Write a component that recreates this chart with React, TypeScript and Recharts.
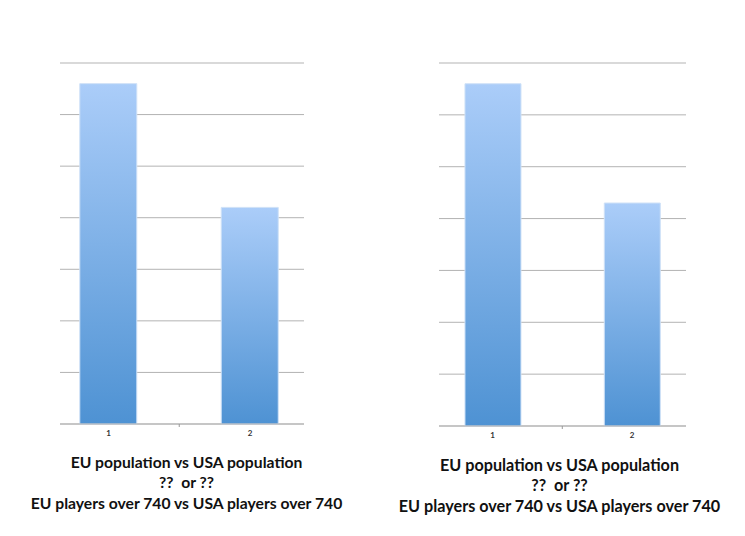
import { BarChart, Bar, XAxis, YAxis, CartesianGrid } from "recharts";

// Two side-by-side Excel-style bar charts, no value axis shown.
const categories = [1, 2];
const leftValues = [66, 42];
const rightValues = [66, 43];
const yTicks = [0, 10, 20, 30, 40, 50, 60, 70];
const titleLines = [
  "EU population vs USA population",
  "??  or ??",
  "EU players over 740 vs USA players over 740",
];

const GRID = "#b3b3b3";

function AxisTick(props: any) {
  const { x, y, payload } = props;
  if (payload.value === 1.5) {
    // the only tick mark is the category boundary in the middle
    return <line x1={x} x2={x} y1={y - 8} y2={y - 5} stroke="#999" strokeWidth={1} />;
  }
  return (
    <text
      x={x}
      y={y + 4}
      textAnchor="middle"
      fontSize={8}
      fontWeight={700}
      fill="#333"
      fontFamily="Lato, sans-serif"
    >
      {payload.value}
    </text>
  );
}

interface PanelProps {
  id: string;
  values: number[];
  left: number;
  width: number;
  margin: { top: number; right: number; bottom: number; left: number };
  domain: [number, number];
  barSize: number;
}

function Panel({ id, values, left, width, margin, domain, barSize }: PanelProps) {
  const data = categories.map((c, i) => ({ cat: c, value: values[i] }));
  return (
    <div style={{ position: "absolute", left, top: 0 }}>
      <BarChart width={width} height={450} data={data} margin={margin}>
        <defs>
          <linearGradient id={id} x1="0" y1="0" x2="0" y2="1">
            <stop offset="0%" stopColor="#abcdf9" />
            <stop offset="100%" stopColor="#4e92d3" />
          </linearGradient>
        </defs>
        <CartesianGrid vertical={false} stroke={GRID} strokeWidth={1} />
        <YAxis hide domain={[0, 70]} ticks={yTicks} />
        <XAxis
          dataKey="cat"
          type="number"
          domain={domain}
          ticks={[1, 1.5, 2]}
          height={20}
          tickLine={false}
          axisLine={{ stroke: GRID }}
          tick={<AxisTick />}
          interval={0}
        />
        <Bar
          dataKey="value"
          fill={`url(#${id})`}
          stroke="#cfe1f7"
          strokeWidth={1}
          barSize={barSize}
          isAnimationActive={false}
        />
      </BarChart>
    </div>
  );
}

function Title({ cx, top, fontSize }: { cx: number; top: number; fontSize: number }) {
  return (
    <div
      style={{
        position: "absolute",
        left: cx - 200,
        top,
        width: 400,
        textAlign: "center",
        fontFamily: "Lato, sans-serif",
        fontWeight: 700,
        fontSize,
        lineHeight: "20.5px",
        color: "#111",
        whiteSpace: "pre",
      }}
    >
      {titleLines.map((l) => (
        <div key={l}>{l}</div>
      ))}
    </div>
  );
}

export default function App() {
  return (
    <div style={{ position: "absolute", left: 0, top: 0, width: 745, height: 536, background: "#fff" }}>
      <Panel
        id="gradLeft"
        values={leftValues}
        left={0}
        width={320}
        margin={{ top: 63, right: 16, bottom: 6, left: 60 }}
        domain={[0.657, 2.382]}
        barSize={57}
      />
      <Panel
        id="gradRight"
        values={rightValues}
        left={420}
        width={300}
        margin={{ top: 63, right: 34, bottom: 4, left: 19 }}
        domain={[0.615, 2.388]}
        barSize={56}
      />
      <Title cx={186.5} top={451.5} fontSize={15.7} />
      <Title cx={559.5} top={454.5} fontSize={16.2} />
    </div>
  );
}
